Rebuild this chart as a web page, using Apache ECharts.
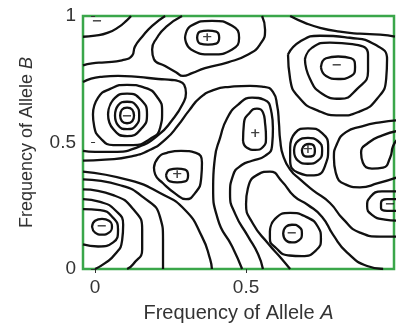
<!DOCTYPE html>
<html><head><meta charset="utf-8">
<script src="https://cdn.jsdelivr.net/npm/echarts@6/dist/echarts.min.js"></script>
<style>html,body{margin:0;padding:0;background:#fff}#c{width:397px;height:328px}</style>
</head><body><div id="c"></div>
<script>
// tick labels
const xTicks = [0, 0.5, 1];
const yTicks = [0, 0.5, 1];
// signs of extrema
const signText = ['−','+','−','−','+','+','+','−','−','−'];
const signX = [0.007,0.371,0.801,0.106,0.272,0.530,0.705,0.023,0.652,0.977];
const signY = [0.977,0.914,0.802,0.603,0.374,0.537,0.471,0.167,0.140,0.253];
// contour lines (traced, data units)
const topLeft1 = [[-0.04,0.918],[0,0.922],[0.043,0.934],[0.079,0.957],[0.106,0.984],[0.119,1.0]];
const topLeft2 = [[0.232,1.0],[0.189,0.961],[0.156,0.918],[0.132,0.879],[0.123,0.844],[0.089,0.825],[0.033,0.817],[-0.01,0.813],[-0.04,0.805]];
const plusTopIn = [[0.338,0.914],[0.348,0.938],[0.374,0.942],[0.401,0.938],[0.411,0.914],[0.401,0.891],[0.374,0.887],[0.348,0.891],[0.338,0.914]];
const plusTopMid = [[0.298,0.914],[0.318,0.961],[0.387,0.981],[0.454,0.961],[0.477,0.914],[0.454,0.868],[0.387,0.848],[0.318,0.868],[0.298,0.914]];
const plusTopOut = [[0.288,1.0],[0.235,0.957],[0.205,0.914],[0.189,0.868],[0.195,0.829],[0.232,0.802],[0.268,0.778],[0.291,0.763],[0.321,0.774],[0.364,0.794],[0.440,0.817],[0.507,0.848],[0.546,0.887],[0.563,0.946],[0.553,1.0]];
const minusLOuter = [[-0.04,0.739],[0.017,0.759],[0.076,0.763],[0.142,0.759],[0.209,0.751],[0.255,0.747],[0.275,0.743],[0.295,0.728],[0.301,0.696],[0.291,0.654],[0.255,0.588],[0.209,0.529],[0.142,0.482],[0.060,0.463],[0,0.463],[-0.04,0.467]];
const topRight1 = [[0.646,1.0],[0.695,0.973],[0.745,0.953],[0.811,0.938],[0.877,0.930],[0.944,0.926],[0.993,0.918]];
const minusTRIn = [[0.748,0.798],[0.765,0.833],[0.805,0.840],[0.848,0.833],[0.861,0.798],[0.848,0.763],[0.805,0.751],[0.765,0.763],[0.748,0.798]];
const minusTRMid = [[0.695,0.829],[0.719,0.875],[0.778,0.895],[0.861,0.887],[0.904,0.848],[0.904,0.782],[0.868,0.712],[0.811,0.673],[0.752,0.693],[0.712,0.751],[0.695,0.829]];
const minusTROut = [[0.639,0.848],[0.679,0.899],[0.745,0.922],[0.844,0.914],[0.927,0.887],[0.967,0.829],[0.964,0.751],[0.934,0.673],[0.877,0.623],[0.811,0.607],[0.738,0.626],[0.679,0.673],[0.646,0.751],[0.639,0.848]];
const minusLIn = [[0.083,0.607],[0.089,0.630],[0.106,0.638],[0.123,0.630],[0.129,0.607],[0.123,0.584],[0.106,0.576],[0.089,0.584],[0.083,0.607]];
const minusLA = [[0.066,0.607],[0.076,0.646],[0.106,0.661],[0.136,0.646],[0.146,0.607],[0.136,0.568],[0.106,0.553],[0.076,0.568],[0.066,0.607]];
const minusLB = [[0.043,0.611],[0.060,0.669],[0.106,0.693],[0.152,0.669],[0.172,0.611],[0.152,0.553],[0.106,0.525],[0.060,0.553],[0.043,0.611]];
const minusLC = [[-0.007,0.611],[0.010,0.677],[0.050,0.712],[0.106,0.728],[0.166,0.716],[0.205,0.681],[0.222,0.623],[0.215,0.556],[0.182,0.514],[0.126,0.490],[0.060,0.490],[0.017,0.518],[-0.003,0.564],[-0.007,0.611]];
const ridgeP = [[-0.04,0.428],[0.033,0.432],[0.116,0.444],[0.182,0.471],[0.235,0.514],[0.275,0.568],[0.311,0.626],[0.348,0.677],[0.394,0.708],[0.447,0.720],[0.513,0.724],[0.560,0.720],[0.589,0.700],[0.603,0.646],[0.609,0.576],[0.613,0.510],[0.623,0.447],[0.646,0.393],[0.679,0.354],[0.722,0.311],[0.778,0.261],[0.821,0.198],[0.877,0.144],[0.944,0.128],[1.0,0.128]];
const minusBLIn = [[-0.01,0.167],[0,0.191],[0.023,0.198],[0.046,0.191],[0.056,0.167],[0.046,0.144],[0.023,0.136],[0,0.144],[-0.01,0.167]];
const bottomLeft1 = [[-0.04,0.237],[0.017,0.233],[0.06,0.202],[0.076,0.156],[0.06,0.105],[0.01,0.089],[-0.04,0.097]];
const bottomLeft2 = [[-0.04,0.276],[0.017,0.265],[0.066,0.233],[0.093,0.175],[0.089,0.109],[0.066,0.058],[0.033,0.023],[0,0]];
const bottomLeft3 = [[-0.04,0.315],[0.06,0.292],[0.126,0.237],[0.156,0.156],[0.156,0.078],[0.126,0.019],[0.106,0]];
const bottomLeft4 = [[-0.04,0.354],[0.083,0.331],[0.159,0.284],[0.215,0.206],[0.225,0.117],[0.225,0]];
const bottomLeft5 = [[-0.04,0.385],[0.116,0.350],[0.215,0.300],[0.298,0.233],[0.354,0.128],[0.381,0.039],[0.387,0]];
const plusMidLoop = [[0.195,0.401],[0.209,0.440],[0.238,0.459],[0.285,0.467],[0.334,0.459],[0.354,0.420],[0.351,0.354],[0.331,0.300],[0.301,0.276],[0.268,0.296],[0.225,0.339],[0.199,0.374],[0.195,0.401]];
const plusMidIn = [[0.235,0.370],[0.248,0.393],[0.272,0.397],[0.298,0.393],[0.308,0.370],[0.298,0.346],[0.272,0.342],[0.248,0.346],[0.235,0.370]];
const ridgeU = [[0.487,0],[0.454,0.089],[0.407,0.195],[0.391,0.323],[0.397,0.440],[0.414,0.518],[0.437,0.595],[0.474,0.650],[0.520,0.677],[0.560,0.669],[0.583,0.626],[0.589,0.556],[0.586,0.486],[0.563,0.447],[0.520,0.428],[0.487,0.412],[0.457,0.370],[0.447,0.296],[0.464,0.218],[0.507,0.128],[0.540,0.058],[0.556,0]];
const plusCLoop = [[0.490,0.506],[0.493,0.576],[0.513,0.619],[0.536,0.634],[0.556,0.619],[0.563,0.576],[0.566,0.518],[0.556,0.482],[0.530,0.471],[0.503,0.479],[0.490,0.506]];
const minusBU = [[0.646,0],[0.619,0.039],[0.573,0.101],[0.523,0.179],[0.500,0.257],[0.507,0.323],[0.540,0.374],[0.579,0.385],[0.619,0.346],[0.659,0.288],[0.705,0.253],[0.752,0.206],[0.788,0.136],[0.834,0.066],[0.901,0.012],[0.954,0]];
const minusBIn = [[0.623,0.140],[0.632,0.167],[0.652,0.175],[0.675,0.167],[0.685,0.140],[0.675,0.113],[0.652,0.105],[0.632,0.113],[0.623,0.140]];
const minusBOut = [[0.579,0.148],[0.596,0.198],[0.646,0.222],[0.699,0.206],[0.738,0.167],[0.748,0.121],[0.732,0.074],[0.685,0.051],[0.639,0.054],[0.600,0.082],[0.579,0.121],[0.579,0.148]];
const plusRIn = [[0.685,0.471],[0.695,0.490],[0.709,0.494],[0.725,0.486],[0.728,0.467],[0.722,0.447],[0.705,0.444],[0.689,0.451],[0.685,0.471]];
const plusRMid = [[0.659,0.467],[0.672,0.506],[0.705,0.518],[0.738,0.506],[0.752,0.467],[0.738,0.428],[0.705,0.416],[0.672,0.428],[0.659,0.467]];
const plusROut = [[0.646,0.479],[0.662,0.537],[0.705,0.556],[0.752,0.537],[0.772,0.479],[0.762,0.409],[0.725,0.370],[0.672,0.381],[0.646,0.432],[0.646,0.479]];
const rightArc = [[1.0,0.588],[0.944,0.580],[0.884,0.564],[0.831,0.541],[0.801,0.494],[0.791,0.440],[0.798,0.377],[0.828,0.335],[0.877,0.323],[0.937,0.339],[1.0,0.362]];
const rightLoop = [[1.0,0.545],[0.954,0.529],[0.904,0.498],[0.881,0.459],[0.887,0.420],[0.917,0.397],[0.954,0.401],[0.977,0.440],[0.987,0.486],[1.0,0.510]];
const minusRIn = [[1.0,0.276],[0.967,0.276],[0.947,0.261],[0.947,0.241],[0.967,0.230],[1.0,0.230]];
const minusROut = [[1.0,0.307],[0.950,0.307],[0.911,0.284],[0.901,0.249],[0.917,0.214],[0.960,0.195],[1.0,0.191]];

const contours = [topLeft1,topLeft2,plusTopIn,plusTopMid,plusTopOut,minusLOuter,topRight1,minusTRIn,minusTRMid,minusTROut,
  minusLIn,minusLA,minusLB,minusLC,ridgeP,minusBLIn,bottomLeft1,bottomLeft2,bottomLeft3,bottomLeft4,bottomLeft5,
  plusMidLoop,plusMidIn,ridgeU,plusCLoop,minusBU,minusBIn,minusBOut,plusRIn,plusRMid,plusROut,rightArc,rightLoop,minusRIn,minusROut];

const series = contours.map(c => ({
  type:'line', data:c, smooth:0.55, showSymbol:false, silent:true, animation:false,
  lineStyle:{color:'#111', width:2.3}
}));
series.push({
  type:'scatter', silent:true, animation:false, symbolSize:1, itemStyle:{color:'transparent'},
  data: signX.map((x,i)=>({value:[x,signY[i]], label:{formatter:signText[i]}})),
  label:{show:true, position:'inside', color:'#111', fontSize:13, fontWeight:'bold', fontFamily:'DejaVu Sans'}
});

const chart = echarts.init(document.getElementById('c'), null, {renderer:'canvas'});
const font = 'Liberation Sans, Arial, sans-serif';
chart.setOption({
  animation:false,
  grid:{left:83, right:3, top:16, bottom:55, show:true, borderColor:'#3aa64a', borderWidth:2.5, backgroundColor:'#fff'},
  xAxis:{type:'value', min:-0.04, max:0.99,
    name:'Frequency of Allele {i|A}', nameLocation:'middle', nameGap:34,
    nameTextStyle:{fontSize:20, color:'#333', fontFamily:font, rich:{i:{fontStyle:'italic', fontSize:20, color:'#333', fontFamily:font}}},
    axisLine:{show:false}, splitLine:{show:false},
    axisTick:{show:true, customValues:xTicks, length:4, lineStyle:{color:'#333'}},
    axisLabel:{customValues:xTicks, fontSize:19, color:'#333', fontFamily:font, margin:9}},
  yAxis:{type:'value', min:0, max:1,
    name:'Frequency of Allele {i|B}', nameLocation:'middle', nameGap:47,
    nameTextStyle:{fontSize:18, color:'#333', fontFamily:font, rich:{i:{fontStyle:'italic', fontSize:18, color:'#333', fontFamily:font}}},
    axisLine:{show:false}, splitLine:{show:false},
    axisTick:{show:true, customValues:yTicks, length:4, lineStyle:{color:'#333'}},
    axisLabel:{customValues:yTicks, fontSize:19, color:'#333', fontFamily:font, margin:7}},
  series: series
});
</script></body></html>
